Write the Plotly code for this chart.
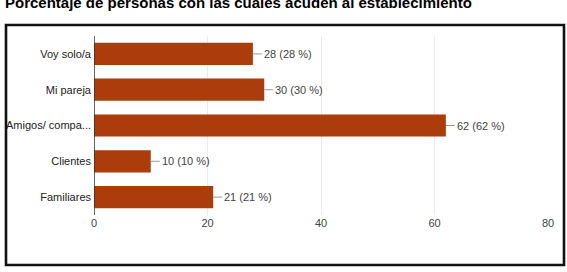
import plotly.graph_objects as go

categories = ["Voy solo/a", "Mi pareja", "Amigos/ compa...", "Clientes", "Familiares"]
values = [28, 30, 62, 10, 21]
percents = [28, 30, 62, 10, 21]
x_ticks = [0, 20, 40, 60, 80]
title_text = "Porcentaje de personas con las cuales acuden al establecimiento"

W, H = 567, 272
L, R, T, B = 94, 19, 36, 57
pw, ph = W - L - R, H - T - B

fig = go.Figure()
fig.add_trace(go.Bar(
    y=categories, x=values, orientation="h",
    marker=dict(color="#ad3c0d", line=dict(width=0)),
    width=0.62, hoverinfo="skip",
))

for c, v, p in zip(categories, values, percents):
    fig.add_annotation(
        x=v, y=c, xref="x", yref="y",
        text=f"{v} ({p} %)", showarrow=True, arrowhead=0, arrowwidth=1,
        arrowcolor="#9a9a9a", ax=9, ay=0, xanchor="left", yanchor="middle",
        standoff=0, startstandoff=0,
        font=dict(family="Liberation Sans, Arial", size=11, color="#444444"),
    )

def px_to_paper_x(px):
    return (px - L) / pw

def px_to_paper_y(py):
    return (H - B - py) / ph

fig.add_shape(type="rect", xref="paper", yref="paper",
              x0=px_to_paper_x(6), x1=px_to_paper_x(564),
              y0=px_to_paper_y(265), y1=px_to_paper_y(25),
              line=dict(color="#111111", width=2.6), layer="above")

fig.add_annotation(
    text=f"<b>{title_text}</b>", xref="paper", yref="paper",
    x=px_to_paper_x(3), y=px_to_paper_y(13), xanchor="left", yanchor="bottom",
    showarrow=False, font=dict(family="Liberation Sans, Arial", size=15, color="#000000"),
)

fig.update_layout(
    width=W, height=H,
    margin=dict(l=L, r=R, t=T, b=B, autoexpand=False),
    paper_bgcolor="white", plot_bgcolor="white",
    showlegend=False,
    bargap=0.38,
)
fig.update_xaxes(
    range=[0, 80], tickvals=x_ticks, ticktext=[str(t) for t in x_ticks],
    showgrid=True, gridcolor="#ebebeb", gridwidth=1, zeroline=False,
    showline=False, ticks="", ticklen=0, automargin=False,
    tickfont=dict(family="Liberation Sans, Arial", size=11, color="#444444"),
    fixedrange=True,
)
fig.update_yaxes(
    categoryorder="array", categoryarray=categories, autorange="reversed",
    showgrid=False, zeroline=False, showline=False, ticks="", automargin=False,
    tickfont=dict(family="Liberation Sans, Arial", size=11, color="#222222"),
    ticklabelstandoff=2,
)
fig.add_shape(type="line", xref="x", yref="paper", x0=0, x1=0, y0=0, y1=1,
              line=dict(color="#333333", width=1.5), layer="above")

fig.write_html("out.html")
